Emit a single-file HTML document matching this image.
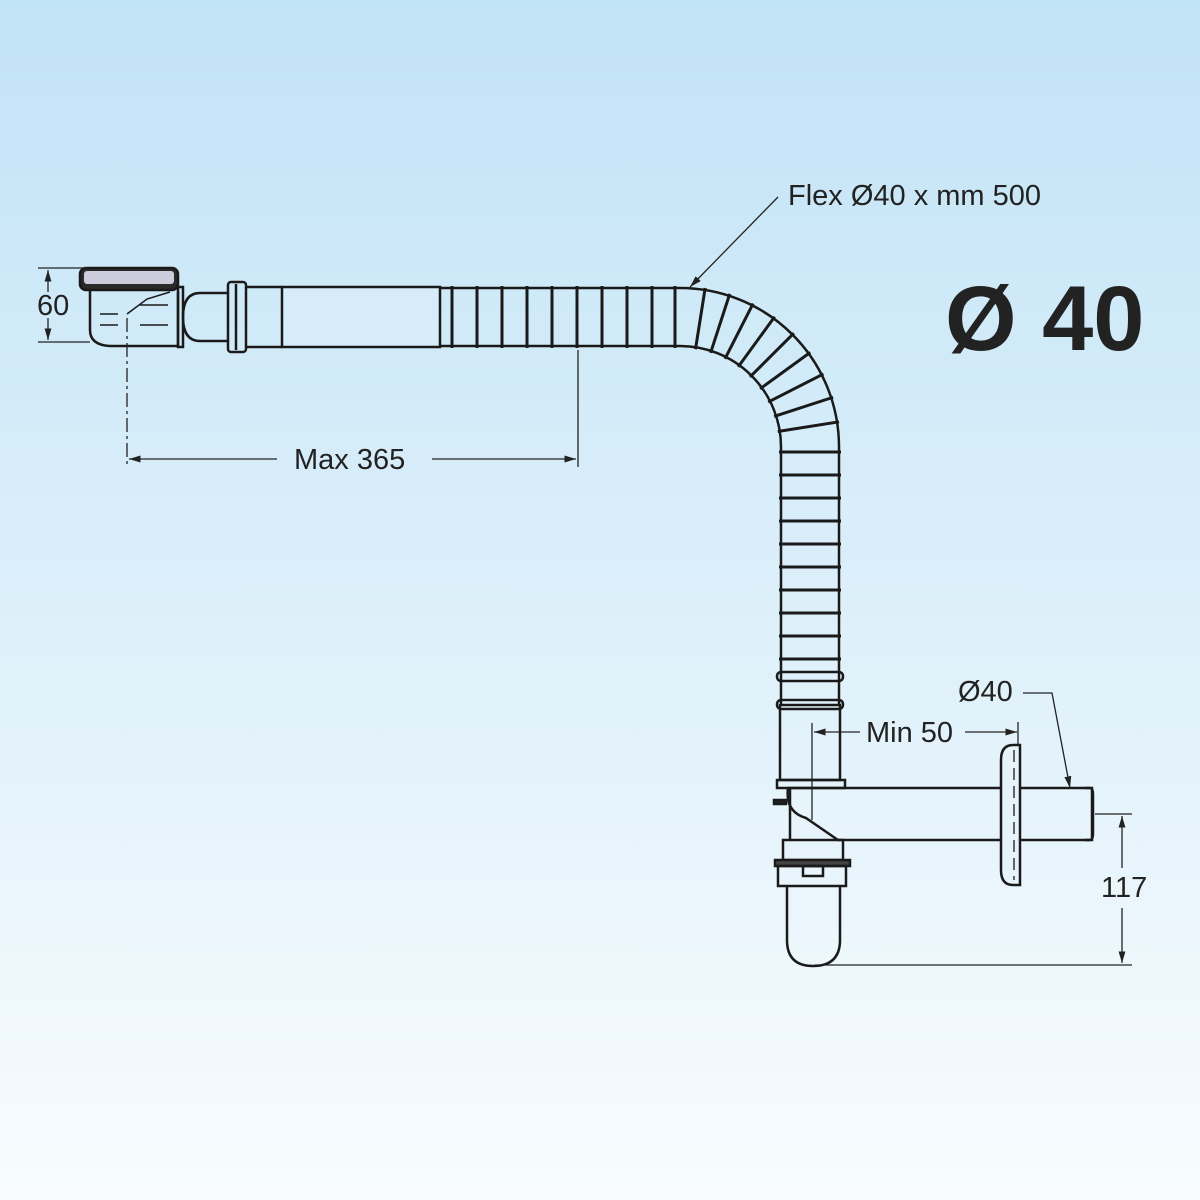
<!DOCTYPE html>
<html><head><style>body{margin:0}svg{display:block}</style></head><body>
<svg width="1200" height="1200" viewBox="0 0 1200 1200" xmlns="http://www.w3.org/2000/svg" font-family="Liberation Sans, sans-serif">
<defs>
<linearGradient id="bg" x1="0" y1="0" x2="0" y2="1"><stop offset="0" stop-color="#c1e3f6"/><stop offset="1" stop-color="#f8fcfe"/></linearGradient>
<marker id="ar" viewBox="0 0 10 10" refX="10" refY="5" markerWidth="9" markerHeight="9" orient="auto-start-reverse"><path d="M0,2 L10,5 L0,8z" fill="#222"/></marker>
</defs>
<rect width="1200" height="1200" fill="url(#bg)"/>
<g fill="none" stroke="#1a1a1a" stroke-width="2.5">
<path d="M440,288 H680 A159,159 0 0 1 839,447 V705" />
<path d="M440,346 H680 A101,101 0 0 1 781,447 V705" />
<g stroke-width="3">
<line x1="452" y1="286" x2="452" y2="348"/><line x1="477" y1="286" x2="477" y2="348"/><line x1="502" y1="286" x2="502" y2="348"/><line x1="527" y1="286" x2="527" y2="348"/><line x1="552" y1="286" x2="552" y2="348"/><line x1="577" y1="286" x2="577" y2="348"/><line x1="602" y1="286" x2="602" y2="348"/><line x1="627" y1="286" x2="627" y2="348"/><line x1="652" y1="286" x2="652" y2="348"/><line x1="675" y1="286" x2="675" y2="348"/>
<g transform="translate(680,447)">
<line x1="0" y1="-99" x2="0" y2="-161" transform="rotate(9)"/><line x1="0" y1="-99" x2="0" y2="-161" transform="rotate(18)"/><line x1="0" y1="-99" x2="0" y2="-161" transform="rotate(27)"/><line x1="0" y1="-99" x2="0" y2="-161" transform="rotate(36)"/><line x1="0" y1="-99" x2="0" y2="-161" transform="rotate(45)"/><line x1="0" y1="-99" x2="0" y2="-161" transform="rotate(54)"/><line x1="0" y1="-99" x2="0" y2="-161" transform="rotate(63)"/><line x1="0" y1="-99" x2="0" y2="-161" transform="rotate(72)"/><line x1="0" y1="-99" x2="0" y2="-161" transform="rotate(81)"/>
</g>
<line x1="779" y1="452" x2="841" y2="452"/><line x1="779" y1="475" x2="841" y2="475"/><line x1="779" y1="498" x2="841" y2="498"/><line x1="779" y1="521" x2="841" y2="521"/><line x1="779" y1="544" x2="841" y2="544"/><line x1="779" y1="567" x2="841" y2="567"/><line x1="779" y1="590" x2="841" y2="590"/><line x1="779" y1="613" x2="841" y2="613"/><line x1="779" y1="636" x2="841" y2="636"/><line x1="779" y1="659" x2="841" y2="659"/>
</g>
<rect x="282" y="287" width="158" height="60" fill="#fff" fill-opacity="0.15"/>
<rect x="228" y="282" width="18" height="70" rx="3"/>
<line x1="236" y1="284" x2="236" y2="350"/>
<path d="M228,293 H200 Q183,293 183,317 Q183,341 200,341 H228"/>
<line x1="246" y1="287" x2="282" y2="287"/><line x1="246" y1="347" x2="282" y2="347"/>
<rect x="178" y="287" width="5" height="60"/>
<rect x="80" y="268" width="98" height="22" rx="6" fill="#2a2a2a"/>
<rect x="84" y="271" width="90" height="13" rx="3" fill="#ccd" stroke="none"/>
<path d="M90,290 V330 Q90,345 110,346 H178 V292"/>
<path d="M127,314 L147,299 L170,292" stroke-width="1.5"/>
<g stroke-width="1.5"><line x1="100" y1="314" x2="118" y2="314"/><line x1="140" y1="305" x2="168" y2="305"/><line x1="100" y1="325" x2="118" y2="325"/><line x1="140" y1="325" x2="168" y2="325"/></g>
<rect x="780" y="705" width="60" height="75"/>
<rect x="777" y="672" width="66" height="9" rx="4"/><rect x="777" y="700" width="66" height="9" rx="4"/>
<rect x="777" y="780" width="68" height="8"/>
<path d="M788,788 H1092 V840 H838 L806,818 Q785,812 788,788"/>
<path d="M1085,788 H1090 Q1093,788 1093,795 V833 Q1093,840 1090,840 H1085"/>
<line x1="790" y1="788" x2="790" y2="840"/>
<rect x="774" y="800" width="12" height="4" fill="#222"/>
<rect x="783" y="840" width="60" height="20"/>
<rect x="775" y="860" width="75" height="6" fill="#444"/>
<rect x="778" y="866" width="68" height="20"/>
<rect x="803" y="866" width="20" height="10"/>
<path d="M787,886 V940 Q787,966 813,966 Q840,966 840,940 V886"/>
<path d="M1020,745 H1013 Q1001,745 1001,760 V870 Q1001,885 1013,885 H1020 Z" fill="#e6f3fa"/>
<line x1="1014" y1="750" x2="1014" y2="880" stroke-width="1.3" stroke-dasharray="12 6"/>
</g>
<g stroke="#222" stroke-width="1.3" fill="none">
<line x1="38" y1="268" x2="90" y2="268"/><line x1="38" y1="342" x2="90" y2="342"/>
<line x1="48" y1="270" x2="48" y2="292" marker-start="url(#ar)"/><line x1="48" y1="318" x2="48" y2="340" marker-end="url(#ar)"/>
<line x1="127" y1="318" x2="127" y2="467" stroke-dasharray="14 4 3 4"/>
<line x1="578" y1="350" x2="578" y2="467"/>
<line x1="129" y1="459" x2="277" y2="459" marker-start="url(#ar)"/><line x1="432" y1="459" x2="576" y2="459" marker-end="url(#ar)"/>
<line x1="778" y1="197" x2="690" y2="287" marker-end="url(#ar)"/>
<line x1="812" y1="723" x2="812" y2="820"/>
<line x1="814" y1="732" x2="860" y2="732" marker-start="url(#ar)"/><line x1="965" y1="732" x2="1017" y2="732" marker-end="url(#ar)"/>
<line x1="1018" y1="722" x2="1018" y2="745"/>
<path d="M1023,693 H1052 L1070,788" marker-end="url(#ar)"/>
<line x1="1095" y1="814" x2="1132" y2="814"/><line x1="815" y1="965" x2="1132" y2="965"/>
<line x1="1122" y1="816" x2="1122" y2="868" marker-start="url(#ar)"/><line x1="1122" y1="908" x2="1122" y2="963" marker-end="url(#ar)"/>
</g>
<g fill="#222" font-size="29">
<text x="37" y="315">60</text>
<text x="294" y="469">Max 365</text>
<text x="788" y="205">Flex Ø40 x mm 500</text>
<text x="866" y="742">Min 50</text>
<text x="958" y="701">Ø40</text>
<text x="1101" y="897">117</text>
<text x="945" y="350" font-size="92" font-weight="bold">Ø 40</text>
</g>
</svg>
</body></html>
